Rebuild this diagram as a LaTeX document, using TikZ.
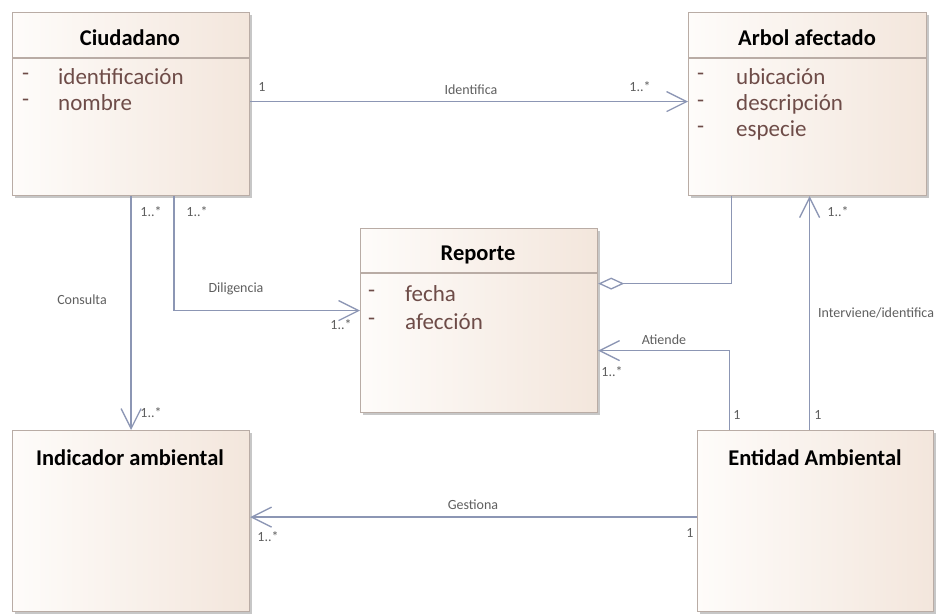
\documentclass[tikz,border=0pt]{standalone}
\usepackage{fontspec}
\setmainfont{Carlito}
\usetikzlibrary{arrows.meta,shadows,calc}
\definecolor{linec}{RGB}{140,150,180}
\definecolor{borderc}{RGB}{185,172,165}
\definecolor{fillL}{RGB}{254,252,250}
\definecolor{fillR}{RGB}{243,230,220}
\definecolor{attrc}{RGB}{110,76,72}
\definecolor{lblc}{RGB}{95,95,95}
\begin{document}
\begin{tikzpicture}[x=1pt,y=-1pt,
  umlbox/.style={draw=borderc, line width=1.2pt, left color=fillL, right color=fillR,
    drop shadow={shadow xshift=2pt, shadow yshift=-2pt, fill=black, opacity=0.22},
    rectangle, anchor=north west, inner sep=0pt},
  sepline/.style={draw=borderc, line width=1.2pt},
  title/.style={font=\bfseries\fontsize{22.5}{26}\selectfont, text=black},
  attr/.style={font=\fontsize{23}{27}\selectfont, text=attrc, anchor=west, inner sep=0pt},
  lbl/.style={font=\fontsize{14}{16}\selectfont, text=lblc, inner sep=1pt},
  assoc/.style={draw=linec, line width=1.3pt, -{Straight Barb[length=20pt,width=20pt,line width=1.3pt]}},
  aggr/.style={draw=linec, line width=1.3pt, -{Diamond[open,length=26pt,width=12pt,line width=1.3pt]}}
]
\useasboundingbox (0,0) rectangle (938,616);
\fill[white] (0,0) rectangle (938,616);

% Boxes
\node[umlbox, minimum width=237pt, minimum height=183pt] (ciu) at (12,12) {};
\node[umlbox, minimum width=238pt, minimum height=183pt] (arb) at (688,12) {};
\node[umlbox, minimum width=237pt, minimum height=184pt] (rep) at (360,228) {};
\node[umlbox, minimum width=237pt, minimum height=181pt] (ind) at (12,430) {};
\node[umlbox, minimum width=236pt, minimum height=181pt] (ent) at (697,430) {};

% header separators
\draw[sepline] ($(ciu.north west)+(0,46)$) -- ($(ciu.north east)+(0,46)$);
\draw[sepline] ($(arb.north west)+(0,46)$) -- ($(arb.north east)+(0,46)$);
\draw[sepline] ($(rep.north west)+(0,45)$) -- ($(rep.north east)+(0,45)$);

% titles
\node[title] (ciut) at (130,38) {Ciudadano};
\node[title] (arbt) at (807,38) {Arbol afectado};
\node[title] (rept) at (478,255) {Reporte};
\node[title] (indt) at (130,458) {Indicador ambiental};
\node[title] (entt) at (815,458) {Entidad Ambiental};

% attributes
\node[attr] (ciud1) at (22,77) {-};
\node[attr] (ciua1) at (58,77) {identificación};
\node[attr] (ciud2) at (22,103) {-};
\node[attr] (ciua2) at (58,103) {nombre};

\node[attr] (arbd1) at (697,77) {-};
\node[attr] (arba1) at (736,77) {ubicación};
\node[attr] (arbd2) at (697,104) {-};
\node[attr] (arba2) at (736,104) {descripción};
\node[attr] (arbd3) at (697,130) {-};
\node[attr] (arba3) at (736,130) {especie};

\node[attr] (repd1) at (368,294) {-};
\node[attr] (repa1) at (405,294) {fecha};
\node[attr] (repd2) at (368,322) {-};
\node[attr] (repa2) at (405,322) {afección};

% connectors
\draw[assoc] ([yshift=2.5pt]ciu.east) -- ([yshift=2.5pt]arb.west);
\draw[assoc] (ciu.south) -- (ind.north);
\draw[assoc] ([xshift=43pt]ciu.south) |- ([yshift=10pt]rep.west);
\draw[aggr] ([xshift=-76pt]arb.south) |- ([yshift=37pt]rep.east);
\draw[assoc] ([xshift=-86pt]ent.north) |- ([yshift=-30pt]rep.east);
\draw[assoc] ([xshift=-6pt]ent.north) -- ([xshift=-6pt]ent.north |- arb.south);
\draw[assoc] ([yshift=4pt]ent.west) -- ([yshift=4pt]ent.west -| ind.east);

% labels
\node[lbl] (l1) at (262,87) {1};
\node[lbl] (l2) at (471,90) {Identifica};
\node[lbl] (l3) at (640,87) {1..*};

\node[lbl] (l4) at (151,212) {1..*};
\node[lbl] (l5) at (82,300) {Consulta};
\node[lbl] (l6) at (151,413) {1..*};

\node[lbl] (l7) at (197,212) {1..*};
\node[lbl] (l8) at (236,289) {Diligencia};
\node[lbl] (l9) at (341,325) {1..*};

\node[lbl] (l10) at (664,340) {Atiende};
\node[lbl] (l11) at (612,372) {1..*};
\node[lbl] (l12) at (737,415) {1};

\node[lbl] (l13) at (838,212) {1..*};
\node[lbl] (l14) at (876,313) {Interviene/identifica};
\node[lbl] (l15) at (818,415) {1};

\node[lbl] (l16) at (473,505) {Gestiona};
\node[lbl] (l17) at (268,537) {1..*};
\node[lbl] (l18) at (690,533) {1};
\end{tikzpicture}
\end{document}
